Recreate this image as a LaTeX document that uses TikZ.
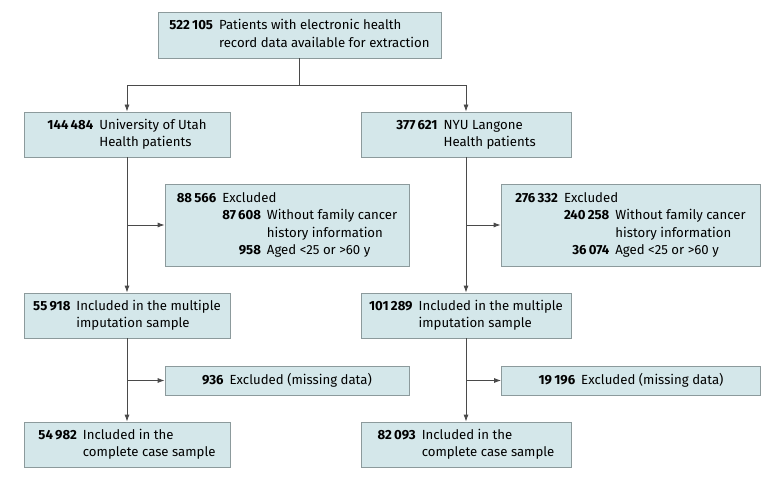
\documentclass[tikz,border=0pt]{standalone}
\usepackage{fontspec}
\setmainfont{Fira Sans}
\usetikzlibrary{arrows.meta,positioning,calc}
\definecolor{boxfill}{HTML}{D4E7EA}
\definecolor{boxline}{HTML}{8C9A9C}
\definecolor{flowline}{HTML}{4A4A4A}
\newcommand{\cnt}[1]{\textbf{#1}}
\newcommand{\gap}{\hspace{6pt}}

\begin{document}
\begin{tikzpicture}[x=1pt,y=-1pt,>={Latex[length=7pt,width=5pt]},
    box/.style 2 args={draw=boxline,fill=boxfill,line width=0.8pt,inner sep=0pt,
      minimum width=#1,minimum height=#2,font=\fontsize{13.2}{17.5}\selectfont},
    flow/.style={draw=flowline,line width=0.8pt}]
  \useasboundingbox (0,0) rectangle (783,486);
  % source
  \node[box={283}{46}] (top) at (299.5,35) {\begin{tabular}{@{}r@{\gap}l@{}}
      \cnt{522\,105} & Patients with electronic health\\
      & record data available for extraction\end{tabular}};
  % sites
  \node[box={206}{45}] (utah) at (127,134.5) {\begin{tabular}{@{}r@{\gap}l@{}}
      \cnt{144\,484} & University of Utah\\ & Health patients\end{tabular}};
  \node[box={210}{45}] (nyu) at (466,134.5) {\begin{tabular}{@{}r@{\gap}l@{}}
      \cnt{377\,621} & NYU Langone\\ & Health patients\end{tabular}};
  % first exclusions
  \node[box={244}{82}] (exclL) at (287,225) {\begin{tabular}{@{}r@{\gap}r@{\gap}l@{}}
      \cnt{88\,566} & \multicolumn{2}{@{}l@{}}{Excluded}\\
      & \cnt{87\,608} & Without family cancer\\
      & & history information\\
      & \cnt{958} & Aged <25 or >60 y\end{tabular}};
  \node[box={259}{82}] (exclR) at (630.5,225) {\begin{tabular}{@{}r@{\gap}r@{\gap}l@{}}
      \cnt{276\,332} & \multicolumn{2}{@{}l@{}}{Excluded}\\
      & \cnt{240\,258} & Without family cancer\\
      & & history information\\
      & \cnt{36\,074} & Aged <25 or >60 y\end{tabular}};
  % multiple imputation samples
  \node[box={206}{45}] (miL) at (127,315.5) {\begin{tabular}{@{}r@{\gap}l@{}}
      \cnt{55\,918} & Included in the multiple\\ & imputation sample\end{tabular}};
  \node[box={210}{45}] (miR) at (466,315.5) {\begin{tabular}{@{}r@{\gap}l@{}}
      \cnt{101\,289} & Included in the multiple\\ & imputation sample\end{tabular}};
  % missing data
  \node[box={244}{29}] (missL) at (287,380.5) {\cnt{936}\gap Excluded (missing data)};
  \node[box={259}{29}] (missR) at (631,380.5) {\cnt{19\,196}\gap Excluded (missing data)};
  % complete case samples
  \node[box={206}{45}] (ccL) at (127,444.5) {\begin{tabular}{@{}r@{\gap}l@{}}
      \cnt{54\,982} & Included in the\\ & complete case sample\end{tabular}};
  \node[box={210}{45}] (ccR) at (466,444.5) {\begin{tabular}{@{}r@{\gap}l@{}}
      \cnt{82\,093} & Included in the\\ & complete case sample\end{tabular}};
  % connectors
  \coordinate (split) at (top.south |- 0,85);
  \draw[flow] (top.south) -- (split);
  \draw[flow,->] (split) -| (utah.north);
  \draw[flow,->] (split) -| (nyu.north);
  \draw[flow,->] (utah.south) -- (miL.north);
  \draw[flow,->] (utah.south |- exclL.west) -- (exclL.west);
  \draw[flow,->] (nyu.south) -- (miR.north);
  \draw[flow,->] (nyu.south |- exclR.west) -- (exclR.west);
  \draw[flow,->] (miL.south) -- (ccL.north);
  \draw[flow,->] (miL.south |- missL.west) -- (missL.west);
  \draw[flow,->] (miR.south) -- (ccR.north);
  \draw[flow,->] (miR.south |- missR.west) -- (missR.west);
\end{tikzpicture}
\end{document}
